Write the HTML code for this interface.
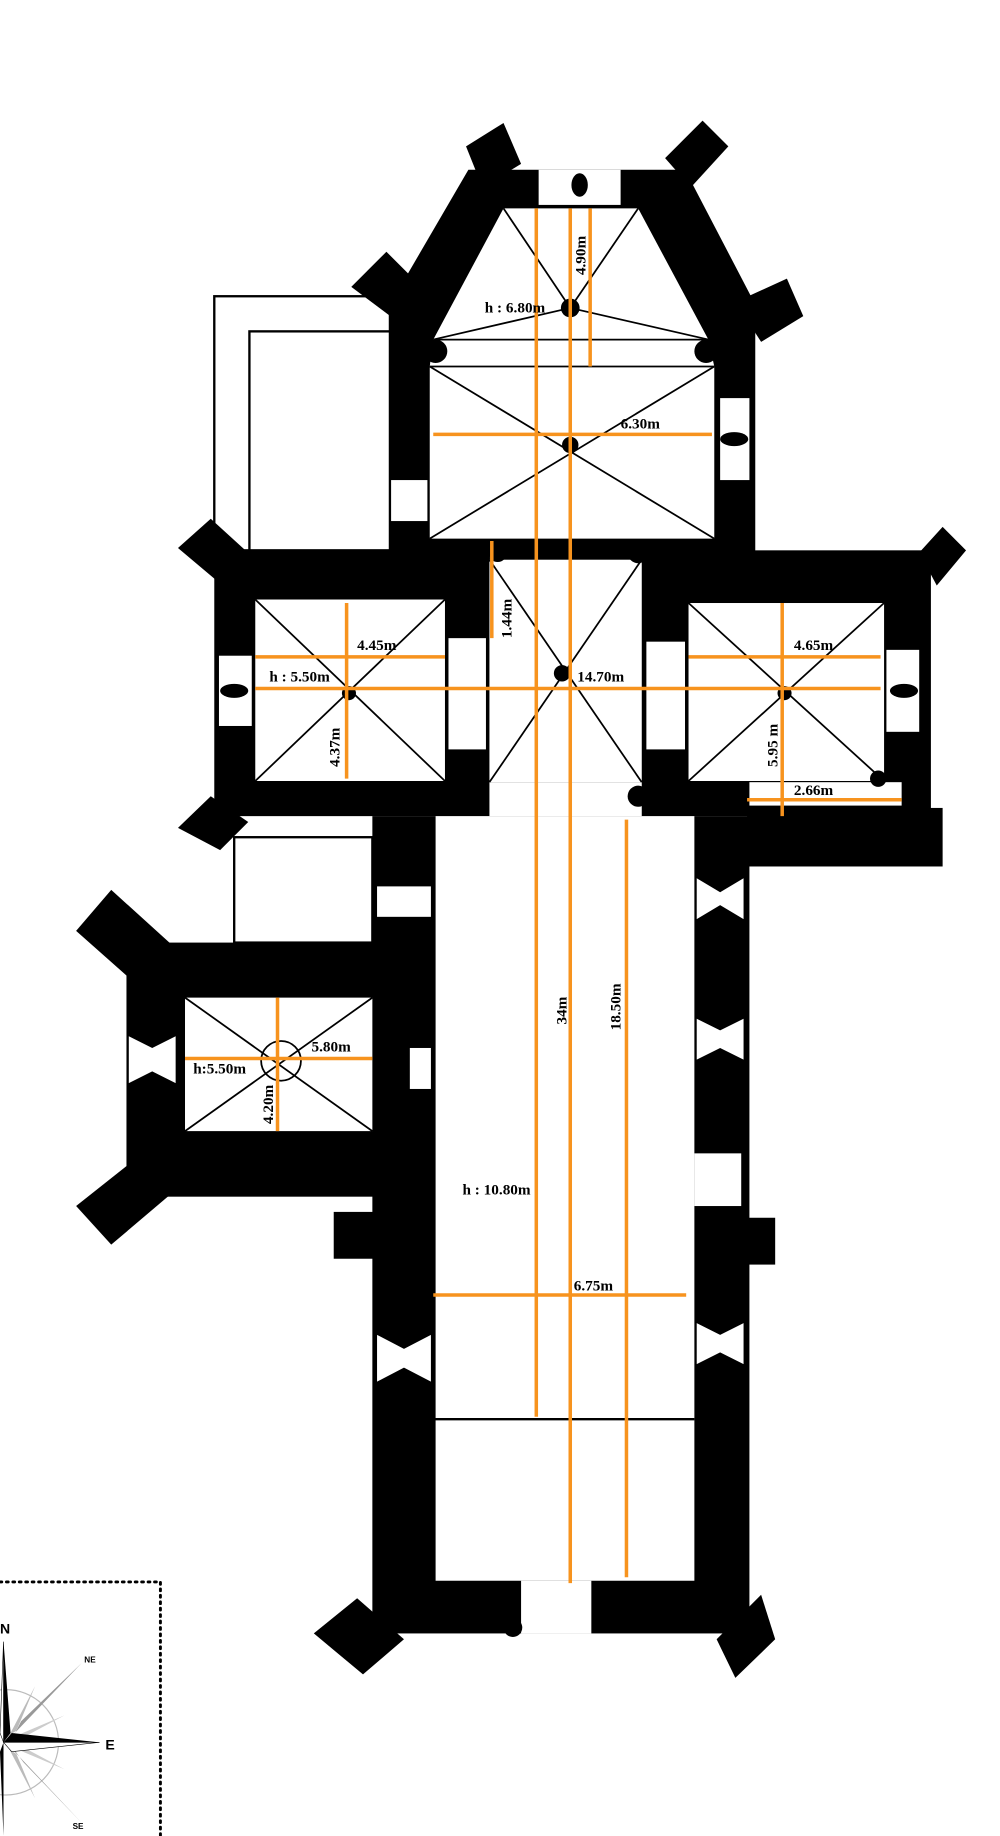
<!DOCTYPE html>
<html><head><meta charset="utf-8"><style>
html,body{margin:0;padding:0;background:#fff}
svg{display:block}
text{font-family:"Liberation Serif",serif;font-weight:bold;font-size:13px;fill:#000}
</style></head><body>
<svg width="1000" height="1836" viewBox="0 0 854 1568" preserveAspectRatio="none" xmlns="http://www.w3.org/2000/svg">
<rect width="854" height="1568" fill="#fff"/>
<rect x="183" y="253" width="150" height="217" fill="#fff" stroke="#000" stroke-width="2"/>
<rect x="213" y="283" width="120" height="187" fill="#fff" stroke="#000" stroke-width="2"/>
<rect x="200" y="715" width="118" height="90" fill="#fff" stroke="#000" stroke-width="2"/>
<g fill="#000">
<polygon points="400,145 585,145 645,260 645,475 333,475 333,260"/>
<polygon points="398,125 430,105 445,140 412,160"/>
<polygon points="568,135 600,103 622,125 590,160"/>
<polygon points="300,245 330,215 365,250 340,275"/>
<polygon points="628,258 672,238 686,270 650,292"/>
<rect x="183" y="470" width="235" height="227"/>
<rect x="548" y="470" width="247" height="227"/>
<rect x="418" y="470" width="130" height="227"/>
<polygon points="152,468 180,443 215,475 190,500"/>
<polygon points="152,707 180,680 212,702 188,726"/>
<polygon points="785,472 805,450 825,470 800,500"/>
<rect x="638" y="690" width="167" height="50"/>
<rect x="318" y="697" width="322" height="698"/>
<rect x="285" y="1035" width="35" height="40"/>
<rect x="638" y="1040" width="24" height="40"/>
<rect x="573" y="820" width="22" height="25"/>
<rect x="370" y="818" width="20" height="25"/>
<polygon points="268,1395 305,1365 345,1400 310,1430"/>
<polygon points="612,1400 650,1362 662,1400 628,1433"/>
<rect x="108" y="805" width="252" height="217"/>
<polygon points="65,795 95,760 148,808 118,842"/>
<polygon points="65,1030 95,1063 148,1018 118,988"/>
</g>
<g fill="#fff">
<polygon points="430,178 545,178 605,290 610,313 610,460 367,460 367,313 370,290"/>
<rect x="460" y="145" width="70" height="30"/>
<rect x="615" y="340" width="25" height="70"/>
<rect x="334" y="410" width="31" height="35"/>
<rect x="218" y="512" width="162" height="155"/>
<rect x="588" y="515" width="167" height="152"/>
<rect x="640" y="668" width="130" height="20"/>
<rect x="418" y="478" width="130" height="190"/>
<rect x="418" y="668" width="130" height="29"/>
<rect x="187" y="560" width="28" height="60"/>
<rect x="757" y="555" width="28" height="70"/>
<rect x="383" y="545" width="32" height="95"/>
<rect x="552" y="548" width="33" height="92"/>
<rect x="372" y="697" width="221" height="653"/>
<rect x="445" y="1350" width="60" height="45"/>
<rect x="322" y="757" width="46" height="26"/>
<rect x="158" y="852" width="160" height="114"/>
<rect x="350" y="895" width="18" height="35"/>
<rect x="593" y="985" width="40" height="45"/>
<polygon points="110,885 130,895 150,885 150,925 130,915 110,925"/>
<polygon points="322,1140 345,1152 368,1140 368,1180 345,1168 322,1180"/>
<polygon points="595,750 615,762 635,750 635,785 615,773 595,785"/>
<polygon points="595,870 615,880 635,870 635,905 615,895 595,905"/>
<polygon points="595,1130 615,1140 635,1130 635,1165 615,1155 595,1165"/>
</g>
<g fill="#000">
<ellipse cx="495" cy="158" rx="7" ry="10"/>
<ellipse cx="627" cy="375" rx="12" ry="6"/>
<ellipse cx="200" cy="590" rx="12" ry="6"/>
<ellipse cx="772" cy="590" rx="12" ry="6"/>
<circle cx="487" cy="263" r="8"/><circle cx="487" cy="380" r="7"/>
<circle cx="480" cy="575" r="7"/><circle cx="298" cy="592" r="6"/><circle cx="670" cy="592" r="6"/>
<circle cx="372" cy="300" r="10"/><circle cx="603" cy="300" r="10"/>
<circle cx="425" cy="472" r="8"/><circle cx="545" cy="472" r="9"/><circle cx="545" cy="680" r="9"/><circle cx="750" cy="665" r="7"/>
<circle cx="438" cy="1390" r="8"/>
</g>
<g stroke="#000" stroke-width="1.5" fill="none">
<line x1="487" y1="263" x2="430" y2="178"/><line x1="487" y1="263" x2="545" y2="178"/>
<line x1="487" y1="263" x2="370" y2="290"/><line x1="487" y1="263" x2="605" y2="290"/>
<line x1="370" y1="290" x2="605" y2="290"/><line x1="367" y1="313" x2="610" y2="313"/>
<line x1="367" y1="313" x2="610" y2="460"/><line x1="610" y1="313" x2="367" y2="460"/>
<line x1="418" y1="478" x2="548" y2="668"/><line x1="548" y1="478" x2="418" y2="668"/>
<line x1="218" y1="512" x2="380" y2="667"/><line x1="380" y1="512" x2="218" y2="667"/>
<line x1="588" y1="515" x2="755" y2="667"/><line x1="755" y1="515" x2="588" y2="667"/>
<line x1="158" y1="852" x2="318" y2="966"/><line x1="318" y1="852" x2="158" y2="966"/>
<circle cx="240" cy="906" r="17"/>
<line x1="366" y1="1212" x2="593" y2="1212" stroke-width="2"/>
</g>
<g stroke="#f7931e" stroke-width="3">
<line x1="458" y1="178" x2="458" y2="1210"/>
<line x1="487" y1="178" x2="487" y2="1352"/>
<line x1="504" y1="178" x2="504" y2="313"/>
<line x1="535" y1="700" x2="535" y2="1347"/>
<line x1="370" y1="371" x2="608" y2="371"/>
<line x1="218" y1="588" x2="752" y2="588"/>
<line x1="218" y1="561" x2="380" y2="561"/>
<line x1="588" y1="561" x2="752" y2="561"/>
<line x1="296" y1="515" x2="296" y2="665"/>
<line x1="668" y1="515" x2="668" y2="697"/>
<line x1="638" y1="683" x2="770" y2="683"/>
<line x1="420" y1="462" x2="420" y2="545"/>
<line x1="158" y1="904" x2="318" y2="904"/>
<line x1="237" y1="852" x2="237" y2="966"/>
<line x1="370" y1="1106" x2="586" y2="1106"/>
</g>
<text x="414" y="267">h : 6.80m</text>
<text x="530" y="366">6.30m</text>
<text x="305" y="555">4.45m</text>
<text x="230" y="582">h : 5.50m</text>
<text x="493" y="582">14.70m</text>
<text x="678" y="555">4.65m</text>
<text x="678" y="679">2.66m</text>
<text x="266" y="898">5.80m</text>
<text x="165" y="917">h:5.50m</text>
<text x="395" y="1020">h : 10.80m</text>
<text x="490" y="1102">6.75m</text>
<text transform="translate(500,235) rotate(-90)">4.90m</text>
<text transform="translate(437,545) rotate(-90)">1.44m</text>
<text transform="translate(290,655) rotate(-90)">4.37m</text>
<text transform="translate(664,655) rotate(-90)">5.95 m</text>
<text transform="translate(233,960) rotate(-90)">4.20m</text>
<text transform="translate(484,875) rotate(-90)">34m</text>
<text transform="translate(530,880) rotate(-90)">18.50m</text>
<polyline points="0,1351 137,1351 137,1568" fill="none" stroke="#000" stroke-width="2.5" stroke-dasharray="1.5,4" stroke-linecap="round"/>
<g>
<circle cx="5" cy="1488" r="45" fill="none" stroke="#bbb" stroke-width="1"/>
<polygon points="5,1488 70,1420 18,1470 12,1482" fill="#999"/>
<polygon points="5,1488 70,1557 20,1505 12,1494" fill="#999"/>
<polygon points="8,1482 30,1440 14,1478" fill="#bbb"/>
<polygon points="8,1494 30,1536 14,1498" fill="#bbb"/>
<polygon points="10,1484 55,1465 12,1488" fill="#ccc"/>
<polygon points="10,1492 55,1511 12,1488" fill="#ccc"/>
<polygon points="3,1402 9,1480 3,1488" fill="#000"/>
<polygon points="3,1402 0,1480 3,1488" fill="#fff" stroke="#000" stroke-width="0.5"/>
<polygon points="3,1568 0,1496 3,1488" fill="#000"/>
<polygon points="85,1488 10,1480 3,1488" fill="#000"/>
<polygon points="85,1488 10,1496 3,1488" fill="#fff" stroke="#000" stroke-width="0.5"/>
</g>
<text x="0" y="1395" style="font-family:'Liberation Sans',sans-serif;font-size:12px">N</text>
<text x="90" y="1494" style="font-family:'Liberation Sans',sans-serif;font-size:12px">E</text>
<text x="72" y="1420" style="font-family:'Liberation Sans',sans-serif;font-size:7px">NE</text>
<text x="62" y="1562" style="font-family:'Liberation Sans',sans-serif;font-size:7px">SE</text>
</svg>
</body></html>
